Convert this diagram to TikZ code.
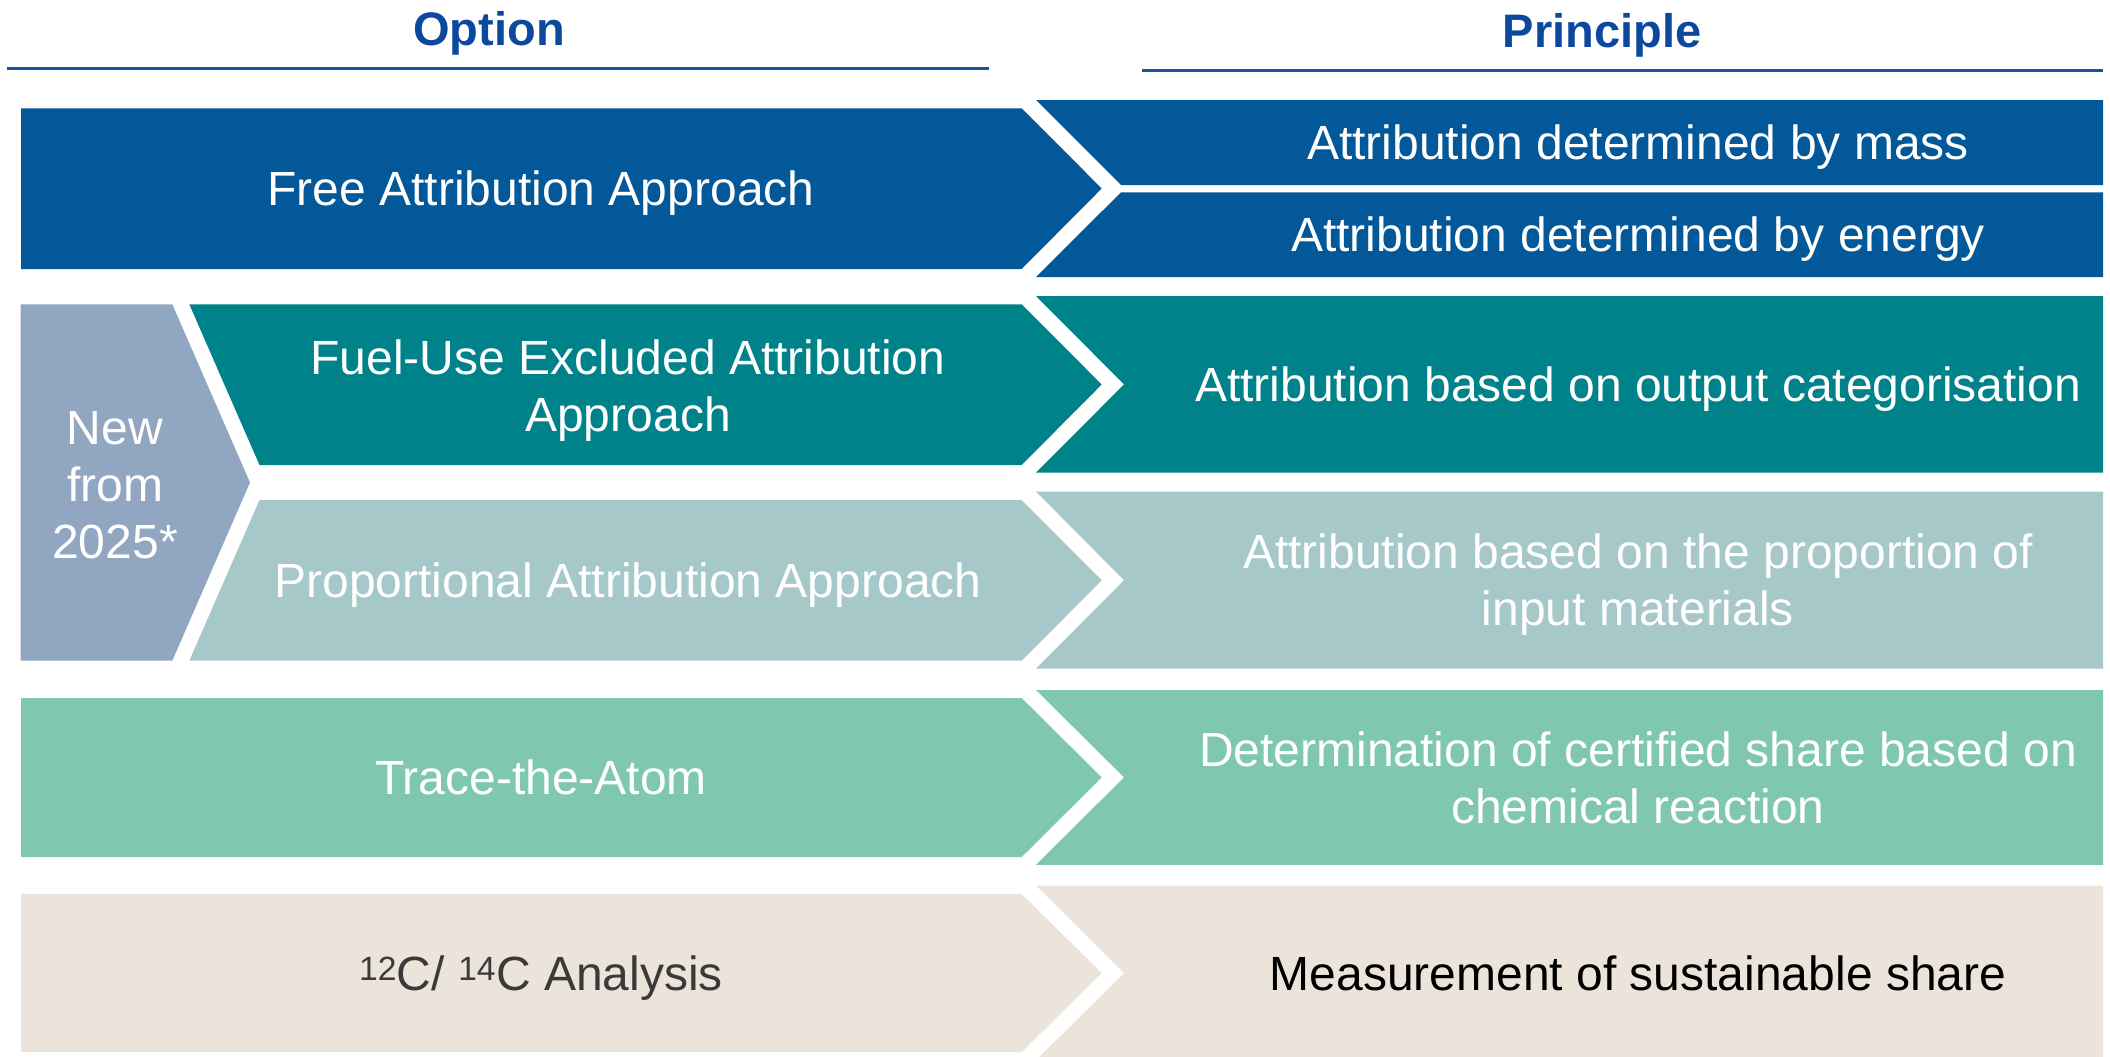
\documentclass[tikz,border=0pt]{standalone}
\usepackage{fontspec}
\setmainfont{Liberation Sans}
\definecolor{cblue}{HTML}{025898}
\definecolor{cteal}{HTML}{00828A}
\definecolor{cgteal}{HTML}{A6C8C8}
\definecolor{cgreen}{HTML}{80C7AF}
\definecolor{cbeige}{HTML}{ECE4DB}
\definecolor{cnew}{HTML}{91A6C1}
\definecolor{headblue}{HTML}{0C489E}
\definecolor{ruleblue}{HTML}{1A52A0}
\definecolor{dgrey}{HTML}{3A3A3A}
\begin{document}
\begin{tikzpicture}[x=1pt,y=-1pt,
  txt/.style={font=\fontsize{48}{57}\selectfont, text=white, align=center, inner sep=0pt, anchor=base},
  head/.style={font=\fontsize{47}{56}\selectfont\bfseries, text=headblue, inner sep=0pt, anchor=base},
  hrule/.style={draw=ruleblue, line width=3pt}]
\useasboundingbox (0,0) rectangle (2110,1057);
\clip (0,0) rectangle (2110,1057);

% headings
\node[head] (opt) at (489,46) {Option};
\node[head] (prin) at (1602,48) {Principle};
\draw[hrule] (7,68.5) -- (989,68.5);
\draw[hrule] (1142,70.7) -- (2103,70.7);

% row 1
\fill[cblue] (21,108.3) -- (1021.7,108.3) -- (1101.7,188.5) -- (1021.7,269) -- (21,269) -- cycle;
\fill[cblue] (1036,100) -- (2103,100) -- (2103,185) -- (1121,185) -- cycle;
\fill[cblue] (1121,192.3) -- (2103,192.3) -- (2103,277) -- (1036,277) -- cycle;

% rows 2-3
\fill[cnew] (20.7,304.3) -- (172.3,304.3) -- (250,482.5) -- (172.3,660.7) -- (20.7,660.7) -- cycle;
\fill[cteal] (189.3,304.3) -- (1021.7,304.3) -- (1101.7,384.5) -- (1021.7,465) -- (259.5,465) -- cycle;
\fill[cteal] (1036,296) -- (2103,296) -- (2103,472.7) -- (1036,472.7) -- (1124,384.4) -- cycle;
\fill[cgteal] (259.5,500) -- (1021.7,500) -- (1101.7,580.4) -- (1021.7,660.7) -- (189.3,660.7) -- cycle;
\fill[cgteal] (1036,491.6) -- (2103,491.6) -- (2103,668.7) -- (1036,668.7) -- (1124,580.2) -- cycle;

% row 4
\fill[cgreen] (21,698) -- (1021.7,698) -- (1101.7,777.5) -- (1021.7,857) -- (21,857) -- cycle;
\fill[cgreen] (1036,690) -- (2103,690) -- (2103,864.8) -- (1036,864.8) -- (1124,777.4) -- cycle;

% row 5
\fill[cbeige] (21,894) -- (1021.7,894) -- (1101.7,973) -- (1021.7,1052) -- (21,1052) -- cycle;
\fill[cbeige] (1036,885.7) -- (2103,885.7) -- (2103,1060.3) -- (1036,1060.3) -- (1124,973) -- cycle;

% texts (multi-line nodes: base = last line baseline)
\node[txt] (free) at (541,205.7) {Free Attribution Approach};
\node[txt] (mass) at (1638,159.5) {Attribution determined by mass};
\node[txt] (energy) at (1638,251.5) {Attribution determined by energy};

\node[txt] (new) at (115,558) {New\\from\\2025*};
\node[txt] (fuel) at (628,431) {Fuel-Use Excluded Attribution\\Approach};
\node[txt] (output) at (1638,401.6) {Attribution based on output categorisation};
\node[txt] (prop) at (628,597.6) {Proportional Attribution Approach};
\node[txt] (propin) at (1638,625.5) {Attribution based on the proportion of\\input materials};

\node[txt] (trace) at (541,794.5) {Trace-the-Atom};
\node[txt] (chem) at (1638,823) {Determination of certified share based on\\chemical reaction};

\node[txt, text=dgrey] (carbon) at (541,990) {\textsuperscript{12}C/ \textsuperscript{14}C Analysis};
\node[txt, text=black] (meas) at (1638,990) {Measurement of sustainable share};
\end{tikzpicture}
\end{document}
